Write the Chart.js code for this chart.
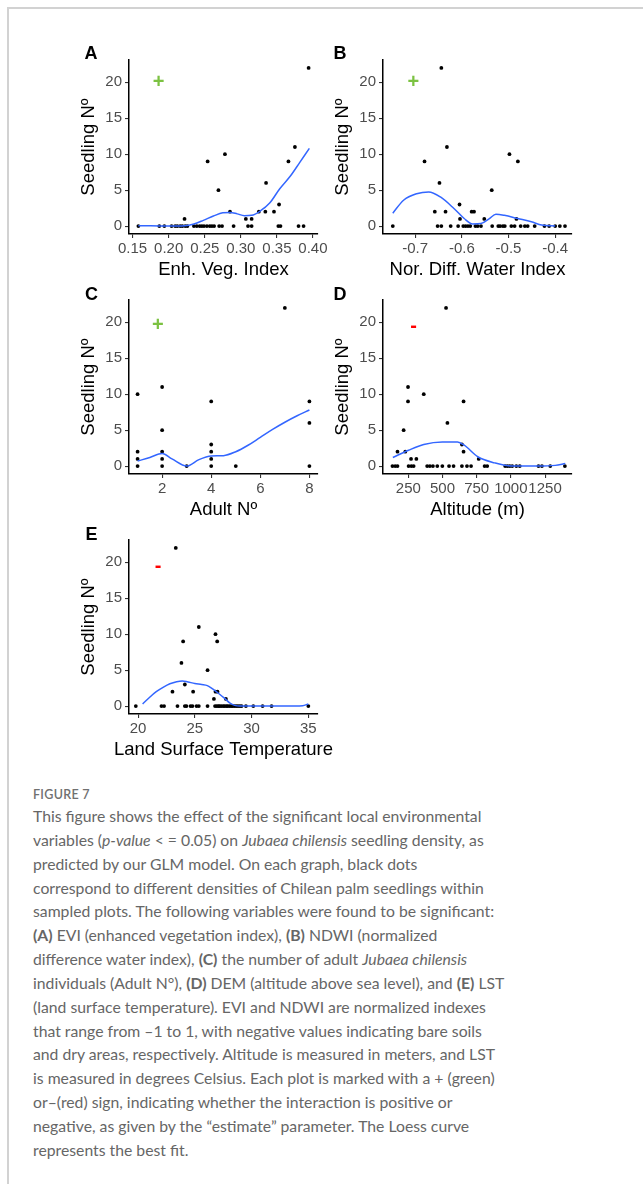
<!DOCTYPE html>
<html>
<head>
<meta charset="utf-8">
<script src="https://cdn.jsdelivr.net/npm/chart.js@4.4.1/dist/chart.umd.min.js"></script>
<style>
  html, body { margin: 0; padding: 0; background: #fff; }
  body { width: 643px; height: 1184px; position: relative; overflow: hidden; }
  .frame { position: absolute; left: 7px; top: 7px; width: 660px; height: 1200px;
           border-left: 2px solid #d2d2d2; border-top: 2px solid #d2d2d2; }
  canvas.panel { position: absolute; }
  .caption { position: absolute; left: 33px; top: 787px; font-family: Lato, "Open Sans", sans-serif;
             color: #666; white-space: nowrap; }
  .caption .fig { font-size: 12.5px; font-weight: 600; letter-spacing: 0.3px; margin-bottom: 2px; color: #707070; }
  .caption .txt { font-size: 15.75px; line-height: 23.85px; }
</style>
</head>
<body>
<div class="frame"></div>

<canvas id="pA" class="panel" width="260" height="250" style="left:70px;top:40px"></canvas>
<canvas id="pB" class="panel" width="260" height="250" style="left:324px;top:40px"></canvas>
<canvas id="pC" class="panel" width="260" height="250" style="left:70px;top:280px"></canvas>
<canvas id="pD" class="panel" width="260" height="250" style="left:324px;top:280px"></canvas>
<canvas id="pE" class="panel" width="290" height="250" style="left:70px;top:520px"></canvas>

<div class="caption">
  <div class="fig">FIGURE 7</div>
  <div class="txt">
    This figure shows the effect of the significant local environmental<br>
    variables (<i>p-value</i> &lt; = 0.05) on <i>Jubaea chilensis</i> seedling density, as<br>
    predicted by our GLM model. On each graph, black dots<br>
    correspond to different densities of Chilean palm seedlings within<br>
    sampled plots. The following variables were found to be significant:<br>
    <b>(A)</b> EVI (enhanced vegetation index), <b>(B)</b> NDWI (normalized<br>
    difference water index), <b>(C)</b> the number of adult <i>Jubaea chilensis</i><br>
    individuals (Adult N°), <b>(D)</b> DEM (altitude above sea level), and <b>(E)</b> LST<br>
    (land surface temperature). EVI and NDWI are normalized indexes<br>
    that range from –1 to 1, with negative values indicating bare soils<br>
    and dry areas, respectively. Altitude is measured in meters, and LST<br>
    is measured in degrees Celsius. Each plot is marked with a + (green)<br>
    or–(red) sign, indicating whether the interaction is positive or<br>
    negative, as given by the “estimate” parameter. The Loess curve<br>
    represents the best fit.
  </div>
</div>

<script>
// ## Data #################################################################

// shared y axis
const seedTicks = [0, 5, 10, 15, 20];

// A - Enh. Veg. Index
const eviX = [0.158, 0.187, 0.194, 0.204, 0.209, 0.212, 0.216, 0.219, 0.223, 0.226, 0.222,
  0.235, 0.239, 0.243, 0.246, 0.249, 0.253, 0.257, 0.260, 0.263, 0.254, 0.269, 0.270, 0.274,
  0.278, 0.285, 0.290, 0.307, 0.310, 0.315, 0.315, 0.325, 0.334, 0.335, 0.346, 0.353, 0.352,
  0.355, 0.366, 0.375, 0.380, 0.387, 0.394];
const eviY = [0, 0, 0, 0, 0, 0, 0, 0, 0, 0, 1,
  0, 0, 0, 0, 0, 0, 0, 0, 0, 9, 5, 0, 0,
  10, 2, 0, 1, 0, 0, 1, 2, 2, 6, 2, 3, 0,
  0, 9, 11, 0, 0, 22];
const eviFitX = [0.158, 0.175, 0.200, 0.222, 0.235, 0.248, 0.262, 0.275, 0.285, 0.295, 0.305,
  0.315, 0.327, 0.340, 0.354, 0.369, 0.382, 0.395];
const eviFitY = [0.05, 0.05, 0.0, 0.05, 0.3, 0.8, 1.4, 1.85, 1.9, 1.7, 1.45,
  1.5, 2.1, 3.2, 5.2, 7.0, 8.9, 10.8];
const eviTicks = [0.15, 0.20, 0.25, 0.30, 0.35, 0.40];

// B - Nor. Diff. Water Index
const ndwiX = [-0.748, -0.680, -0.658, -0.648, -0.652, -0.644, -0.644, -0.635, -0.632, -0.624,
  -0.608, -0.605, -0.604, -0.597, -0.592, -0.587, -0.582, -0.579, -0.574, -0.571, -0.566,
  -0.559, -0.552, -0.536, -0.535, -0.522, -0.518, -0.512, -0.508, -0.498, -0.494, -0.487,
  -0.483, -0.480, -0.474, -0.465, -0.459, -0.444, -0.423, -0.413, -0.400, -0.390, -0.379];
const ndwiY = [0, 9, 2, 6, 0, 0, 22, 2, 11, 0,
  0, 3, 1, 0, 0, 0, 0, 2, 2, 0, 0,
  0, 1, 5, 0, 0, 0, 0, 0, 10, 0, 0,
  1, 9, 0, 0, 0, 0, 0, 0, 0, 0, 0];
const ndwiFitX = [-0.748, -0.725, -0.697, -0.671, -0.646, -0.617, -0.595, -0.577, -0.559,
  -0.541, -0.527, -0.509, -0.480, -0.451, -0.429, -0.400];
const ndwiFitY = [1.8, 3.6, 4.5, 4.75, 4.05, 2.45, 1.05, 0.3, 0.35,
  1.05, 1.65, 1.5, 1.05, 0.6, 0.15, 0.0];
const ndwiTicks = [-0.7, -0.6, -0.5, -0.4];

// C - Adult No
const adultX = [1, 1, 1, 1, 2, 2, 2, 2, 2, 3, 4, 4, 4, 4, 4, 5, 7, 8, 8, 8];
const adultY = [0, 1, 2, 10, 0, 1, 2, 5, 11, 0, 0, 1, 2, 3, 9, 0, 22, 0, 6, 9];
const adultFitX = [1, 1.5, 2, 2.4, 3, 3.5, 4, 4.5, 5, 5.5, 6, 6.5, 7, 7.5, 8];
const adultFitY = [0.7, 1.2, 1.75, 1.0, 0.0, 0.9, 1.4, 1.45, 2.0, 2.9, 4.0, 5.1, 6.1, 7.0, 7.8];
const adultTicks = [2, 4, 6, 8];

// D - Altitude (m)
const altX = [134, 154, 171, 252, 272, 289, 388, 408, 430, 462, 499, 548, 581, 642, 679, 709,
  808, 827, 958, 975, 992, 1010, 1040, 1065, 1202, 1227, 1288, 1395,
  270, 309, 765, 171, 228, 654, 642, 216, 536, 248, 654, 363, 248, 526];
const altY = [0, 0, 0, 0, 0, 0, 0, 0, 0, 0, 0, 0, 0, 0, 0, 0,
  0, 0, 0, 0, 0, 0, 0, 0, 0, 0, 0, 0,
  1, 1, 1, 2, 2, 2, 3, 5, 6, 9, 9, 10, 11, 22];
const altFitX = [137, 252, 363, 499, 610, 659, 758, 880, 1004, 1200, 1324, 1398];
const altFitY = [1.2, 2.2, 3.0, 3.35, 3.35, 2.9, 1.3, 0.45, 0.0, 0.0, 0.1, 0.35];
const altTicks = [250, 500, 750, 1000, 1250];

// E - Land Surface Temperature
const lstX = [19.8, 22.06, 22.29, 23.47, 24.12, 24.26, 24.62, 24.79, 25.15, 25.35, 26.12,
  26.78, 26.93, 27.07, 27.18, 27.33, 27.49, 27.62, 27.78, 27.90, 28.06, 28.21, 28.34, 28.50,
  28.66, 28.81, 28.97, 29.12, 29.5, 30.15, 30.97, 31.76, 35.0,
  26.68, 27.74, 23.03, 24.85, 26.82, 27.0, 24.12, 26.12, 23.82, 23.97, 26.97, 26.82, 25.35, 23.32];
const lstY = [0, 0, 0, 0, 0, 0, 0, 0, 0, 0, 0,
  0, 0, 0, 0, 0, 0, 0, 0, 0, 0, 0, 0, 0,
  0, 0, 0, 0, 0, 0, 0, 0, 0,
  1, 1, 2, 2, 2, 2, 3, 5, 6, 9, 9, 10, 11, 22];
const lstFitX = [20.4, 21.0, 21.6, 22.2, 22.8, 23.4, 23.9, 24.4, 25.0, 25.6, 26.1, 26.6, 27.1,
  27.6, 28.1, 28.5, 29.0, 31.0, 33.0, 34.5, 35.0];
const lstFitY = [0.3, 1.2, 2.0, 2.6, 3.1, 3.4, 3.5, 3.35, 3.15, 3.0, 2.85, 2.35, 1.75,
  1.1, 0.4, 0.1, 0.0, 0.0, 0.0, 0.05, 0.3];
const lstTicks = [20, 25, 30, 35];

// ## Helpers ##############################################################

const FONT = '"Liberation Sans", Arial, sans-serif';

function pairs(xs, ys) {
  return xs.map((x, i) => ({ x, y: ys[i] }));
}

/** draws panel letter, x title and the +/- estimate sign */
const panelDecor = {
  id: 'panelDecor',
  afterDraw(chart, args, o) {
    if (!o || !o.letter) return;
    const { ctx, chartArea, scales } = chart;
    ctx.save();
    ctx.textAlign = 'center';
    ctx.textBaseline = 'middle';

    ctx.fillStyle = '#000';
    ctx.font = 'bold 18px ' + FONT;
    ctx.fillText(o.letter, o.letterX, o.letterY);

    ctx.font = '18.5px ' + FONT;
    ctx.fillText(o.xTitle, (chartArea.left + chartArea.right) / 2, chartArea.bottom + 36);

    ctx.fillStyle = o.sign === '+' ? '#7cc242' : '#ff0000';
    ctx.font = 'bold 20px ' + FONT;
    ctx.fillText(o.sign, scales.x.getPixelForValue(o.signAt[0]), scales.y.getPixelForValue(o.signAt[1]));
    ctx.restore();
  }
};
Chart.register(panelDecor);

function fixedTicks(vals) {
  return scale => { scale.ticks = vals.map(v => ({ value: v })); };
}

function panel(id, cfg) {
  const el = document.getElementById(id);
  return new Chart(el.getContext('2d'), {
    type: 'scatter',
    data: {
      datasets: [
        {
          data: pairs(cfg.fitX, cfg.fitY),
          showLine: true,
          cubicInterpolationMode: 'monotone',
          borderColor: '#3366ff',
          borderWidth: 1.5,
          pointRadius: 0,
          fill: false
        },
        {
          data: pairs(cfg.x, cfg.y),
          pointRadius: 1.9,
          pointBackgroundColor: '#000',
          pointBorderWidth: 0
        }
      ]
    },
    options: {
      responsive: false,
      animation: false,
      devicePixelRatio: 1,
      layout: { padding: { top: 20, right: el.width - 248, left: 0, bottom: 10 } },
      plugins: {
        legend: { display: false },
        tooltip: { enabled: false },
        panelDecor: cfg.decor
      },
      scales: {
        x: {
          type: 'linear',
          min: cfg.xMin,
          max: cfg.xMax,
          afterBuildTicks: fixedTicks(cfg.ticks),
          afterFit: s => { s.height = 46; s.paddingLeft = 0; s.paddingRight = 0; },
          ticks: {
            autoSkip: false, maxRotation: 0, minRotation: 0, padding: 2,
            color: '#4d4d4d', font: { family: FONT, size: 15 },
            callback: cfg.fmt
          },
          grid: { drawOnChartArea: false, drawTicks: true, tickLength: 4, color: '#333', lineWidth: 1.1 },
          border: { display: true, color: '#000', width: 1.5 }
        },
        y: {
          min: -1.1,
          max: 23.1,
          afterBuildTicks: fixedTicks(seedTicks),
          afterFit: s => { s.width = 59; s.paddingTop = 0; s.paddingBottom = 0; },
          ticks: { padding: 3, color: '#4d4d4d', font: { family: FONT, size: 15 } },
          grid: { drawOnChartArea: false, drawTicks: true, tickLength: 4, color: '#333', lineWidth: 1.1 },
          border: { display: true, color: '#000', width: 1.5 },
          title: {
            display: true, text: 'Seedling Nº', color: '#000',
            font: { family: FONT, size: 18.5, lineHeight: 1 },
            padding: { top: 10, bottom: 0 }
          }
        }
      }
    }
  });
}

// ## Panels ###############################################################

panel('pA', {
  x: eviX, y: eviY, fitX: eviFitX, fitY: eviFitY, ticks: eviTicks,
  xMin: 0.145, xMax: 0.407, fmt: v => v.toFixed(2),
  decor: { letter: 'A', letterX: 21, letterY: 14, xTitle: 'Enh. Veg. Index', sign: '+', signAt: [0.186, 20] }
});

panel('pB', {
  x: ndwiX, y: ndwiY, fitX: ndwiFitX, fitY: ndwiFitY, ticks: ndwiTicks,
  xMin: -0.769, xMax: -0.364, fmt: v => v.toFixed(1),
  decor: { letter: 'B', letterX: 16, letterY: 14, xTitle: 'Nor. Diff. Water Index', sign: '+', signAt: [-0.704, 20] }
});

panel('pC', {
  x: adultX, y: adultY, fitX: adultFitX, fitY: adultFitY, ticks: adultTicks,
  xMin: 0.65, xMax: 8.35, fmt: v => String(v),
  decor: { letter: 'C', letterX: 21.5, letterY: 15.5, xTitle: 'Adult Nº', sign: '+', signAt: [1.82, 19.6] }
});

panel('pD', {
  x: altX, y: altY, fitX: altFitX, fitY: altFitY, ticks: altTicks,
  xMin: 65, xMax: 1447, fmt: v => String(v),
  decor: { letter: 'D', letterX: 16, letterY: 15.5, xTitle: 'Altitude (m)', sign: '-', signAt: [289, 19.45] }
});

panel('pE', {
  x: lstX, y: lstY, fitX: lstFitX, fitY: lstFitY, ticks: lstTicks,
  xMin: 19.2, xMax: 35.85, fmt: v => String(v),
  decor: { letter: 'E', letterX: 21.5, letterY: 15.5, xTitle: 'Land Surface Temperature', sign: '-', signAt: [21.76, 19.4] }
});
</script>
</body>
</html>
